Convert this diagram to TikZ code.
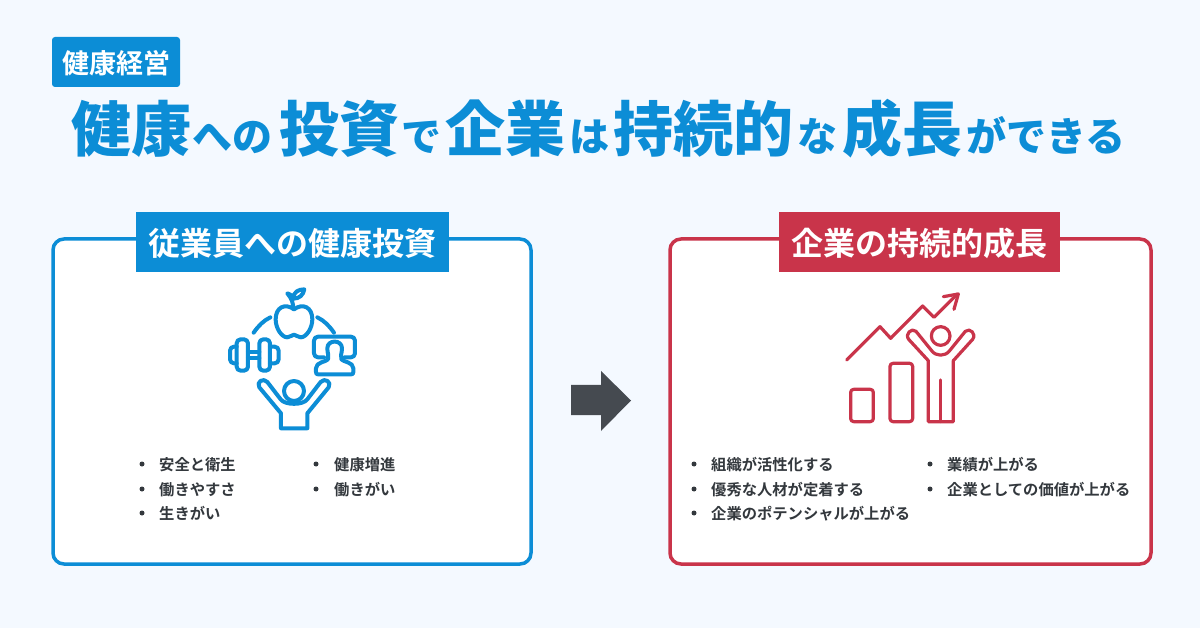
\documentclass[tikz,border=0pt]{standalone}
\usepackage{fontspec}
\setmainfont{Noto Sans CJK JP}[BoldFont={Noto Sans CJK JP Bold}]
\newfontfamily\cjkblack{Noto Sans CJK JP Black}
\definecolor{bgc}{HTML}{F4F9FF}
\definecolor{bluec}{HTML}{0C8DD6}
\definecolor{redc}{HTML}{C9344A}
\definecolor{darkc}{HTML}{454A50}
\definecolor{textc}{HTML}{33383D}
\tikzset{
  big/.style={anchor=base west,inner sep=0pt,text=bluec,font=\fontsize{60}{60}\selectfont\cjkblack},
  small/.style={anchor=base west,inner sep=0pt,text=bluec,font=\fontsize{40}{40}\selectfont\cjkblack},
  frame/.style={line width=3.5pt,rounded corners=11pt,fill=white},
  head/.style={anchor=center,inner sep=0pt,text=white,font=\fontsize{32}{32}\selectfont\bfseries},
  item/.style={anchor=west,inner sep=0pt,text=textc,font=\fontsize{15.3}{16}\selectfont\bfseries},
  bullet/.style={circle,fill=textc,inner sep=0pt,minimum size=5pt},
  iconb/.style={draw=bluec,line width=4pt,line join=round,line cap=round,rounded corners=4pt},
  iconr/.style={draw=redc,line width=3.2pt,line join=round,line cap=round,rounded corners=3pt}
}
\begin{document}
\begin{tikzpicture}[x=1pt,y=-1pt]
\path[use as bounding box,fill=bgc] (0,0) rectangle (1200,628);
% tag
\fill[bluec,rounded corners=3pt] (52,37) rectangle (180,87);
\node[anchor=center,inner sep=0pt,text=white,font=\fontsize{27}{27}\selectfont\bfseries] (tag) at (116,63) {健康経営};
% title
\node[big] (t1) at (71,152) {健康};
\node[small] (t2) at (192,152) {への};
\node[big] (t3) at (279,152) {投資};
\node[small] (t4) at (401,152) {で};
\node[big] (t5) at (445,152) {企業};
\node[small] (t6) at (569,152) {は};
\node[big] (t7) at (613,152) {持続的};
\node[small] (t8) at (797,152) {な};
\node[big] (t9) at (842,152) {成長};
\node[small] (t10) at (966,152) {ができる};
% frames
\draw[frame,draw=bluec] (53,239) rectangle (531,564);
\draw[frame,draw=redc] (670,239) rectangle (1151,564);
\fill[bluec] (136,212) rectangle (449,272);
\fill[redc] (779,212) rectangle (1060,272);
\node[head] (h1) at (292.5,243) {従業員への健康投資};
\node[head] (h2) at (919.5,243) {企業の持続的成長};
% left icon
\begin{scope}[shift={(210,280)},x=0.3333pt,y=-0.3333pt]
\draw[iconb,rounded corners=0pt] (252,88) .. controls (225,68) and (197,82) .. (197,118) .. controls (197,145) and (215,172) .. (232,172) .. controls (242,172) and (245,164) .. (252,164) .. controls (259,164) and (262,172) .. (272,172) .. controls (289,172) and (307,145) .. (307,118) .. controls (307,82) and (279,68) .. (252,88) -- cycle;
\draw[iconb,rounded corners=0pt] (250,86) .. controls (250,70) and (245,55) .. (232,40) .. controls (243,44) and (248,48) .. (250,56) .. controls (250,36) and (265,28) .. (283,28) .. controls (280,45) and (268,56) .. (250,56);
\draw[iconb,rounded corners=0pt] (131,158) .. controls (145,138) and (160,122) .. (181,112);
\draw[iconb,rounded corners=0pt] (322,112) .. controls (343,122) and (358,138) .. (372,158);
\draw[iconb] (80,200) -- (60,200) -- (60,250) -- (80,250);
\draw[iconb] (80,178) rectangle (114,272);
\draw[iconb] (148,178) rectangle (180,272);
\draw[iconb] (180,200) -- (206,200) -- (206,250) -- (180,250);
\draw[iconb,rounded corners=0pt] (114,215) -- (148,215) (114,235) -- (148,235);
\draw[iconb] (342,232) -- (312,232) -- (312,170) -- (435,170) -- (435,232) -- (404,232);
\draw[iconb,rounded corners=0pt] (352,205) .. controls (352,178) and (396,178) .. (396,205) .. controls (396,220) and (390,228) .. (394,238) .. controls (400,246) and (430,246) .. (430,265) -- (430,276) .. controls (430,281) and (428,283) .. (424,283) -- (324,283) .. controls (320,283) and (318,281) .. (318,276) -- (318,265) .. controls (318,246) and (348,246) .. (354,238) .. controls (358,228) and (352,220) .. (352,205) -- cycle;
\draw[iconb] (252,333) circle (30);
\draw[iconb,rounded corners=0pt] (213,445) -- (213,400) -- (148,322) .. controls (138,306) and (160,292) .. (172,306) -- (212,358) .. controls (225,376) and (279,376) .. (292,358) -- (332,306) .. controls (344,292) and (366,306) .. (356,322) -- (292,400) -- (292,445) -- cycle;
\end{scope}
% right icon
\begin{scope}[shift={(830,280)},x=0.3333pt,y=-0.3333pt]
\draw[iconr,rounded corners=0pt] (50,240) -- (150,140) -- (182,175) -- (278,78) -- (312,112) -- (382,42);
\draw[iconr,rounded corners=0pt] (340,50) -- (385,42) -- (372,88);
\draw[iconr] (62,328) rectangle (130,425);
\draw[iconr] (180,250) rectangle (248,425);
\draw[iconr] (332,168) circle (28);
\draw[iconr,rounded corners=0pt] (295,425) -- (295,242) -- (236,178) .. controls (224,162) and (245,142) .. (258,154) -- (305,212) .. controls (318,230) and (346,230) .. (359,212) -- (406,154) .. controls (420,142) and (440,162) .. (428,178) -- (370,242) -- (370,425) -- cycle;
\draw[iconr,rounded corners=0pt] (332,300) -- (332,425);
\end{scope}
% arrow
\fill[darkc] (571,385) -- (601,385) -- (601,371) -- (631,400.5) -- (601,431) -- (601,415) -- (571,415) -- cycle;
% lists left
\node[bullet] (b1) at (142,464) {}; \node[item] (i1) at (159,464.5) {安全と衛生};
\node[bullet] (b2) at (142,489) {}; \node[item] (i2) at (159,489.5) {働きやすさ};
\node[bullet] (b3) at (142,513) {}; \node[item] (i3) at (159,513.5) {生きがい};
\node[bullet] (b4) at (316,464) {}; \node[item] (i4) at (334,464.5) {健康増進};
\node[bullet] (b5) at (316,489) {}; \node[item] (i5) at (334,489.5) {働きがい};
% lists right
\node[bullet] (b6) at (694,464) {}; \node[item] (i6) at (711,464.5) {組織が活性化する};
\node[bullet] (b7) at (694,489) {}; \node[item] (i7) at (711,489.5) {優秀な人材が定着する};
\node[bullet] (b8) at (694,513) {}; \node[item] (i8) at (711,513.5) {企業のポテンシャルが上がる};
\node[bullet] (b9) at (930,464) {}; \node[item] (i9) at (947,464.5) {業績が上がる};
\node[bullet] (b10) at (930,489) {}; \node[item] (i10) at (947,489.5) {企業としての価値が上がる};
\end{tikzpicture}
\end{document}
